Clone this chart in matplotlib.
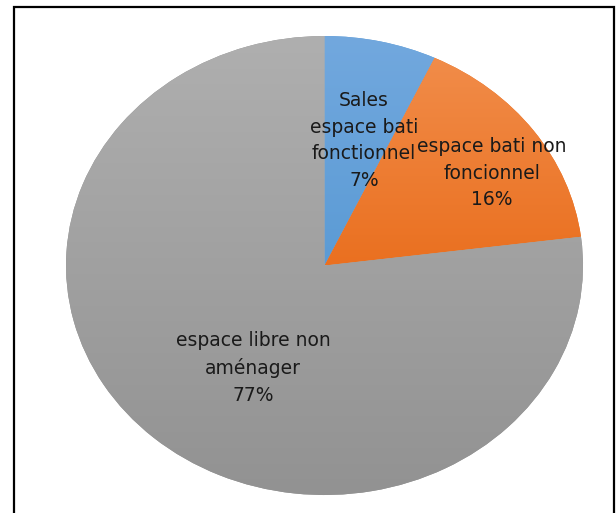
import numpy as np
import matplotlib
matplotlib.use("Agg")
from matplotlib import pyplot as plt
from matplotlib.colors import LinearSegmentedColormap
from matplotlib.patches import Rectangle

# slice data (clockwise from 12 o'clock)
labels = ["Sales\nespace bati\nfonctionnel", "espace bati non\nfoncionnel", "espace libre non\naménager"]
values = [7, 16, 77]
pct_text = ["7%", "16%", "77%"]

# gradient colours, top -> bottom of each slice
top_colors = ["#72a8de", "#f18c49", "#afafaf"]
bottom_colors = ["#5b9bd5", "#ea7020", "#929292"]

# label centres in axis units (pie radius = 1)
label_pos = [(0.153, 0.545), (0.648, 0.403), (-0.277, -0.447)]

W, H = 616, 513
fig = plt.figure(figsize=(W / 100, H / 100), dpi=100)

# pie is drawn slightly stretched (ellipse), like the original
left, right, top, bottom = 66, 583, 36, 495
ax = fig.add_axes([left / W, (H - bottom) / H, (right - left) / W, (bottom - top) / H])

wedges, _ = ax.pie(values, startangle=90, counterclock=False, radius=1,
                   colors=bottom_colors, wedgeprops=dict(linewidth=0))
ax.set_aspect("auto")

# vertical gradient in each slice
for w, c1, c2 in zip(wedges, top_colors, bottom_colors):
    verts = w.get_path().vertices
    y0, y1 = verts[:, 1].min(), verts[:, 1].max()
    cmap = LinearSegmentedColormap.from_list("g", [c2, c1])
    grad = np.linspace(0, 1, 256).reshape(-1, 1)
    im = ax.imshow(grad, cmap=cmap, origin="lower", extent=(-1, 1, y0, y1),
                   aspect="auto", interpolation="bilinear", zorder=w.get_zorder() + 0.1)
    im.set_clip_path(w)
ax.set_xlim(-1, 1)
ax.set_ylim(-1, 1)

for (x, y), lab, p in zip(label_pos, labels, pct_text):
    ax.text(x, y, lab + "\n" + p, ha="center", va="center", fontsize=13.5,
            color="#1a1a1a", linespacing=1.5, zorder=5)

# outer frame (runs off the bottom of the image)
fig.patches.append(Rectangle((13.5 / W, -0.05), (614 - 13.5) / W, (H - 7.5) / H + 0.05,
                             transform=fig.transFigure, fill=False,
                             edgecolor="black", linewidth=1.6))

fig.savefig("out.png", dpi=100)
